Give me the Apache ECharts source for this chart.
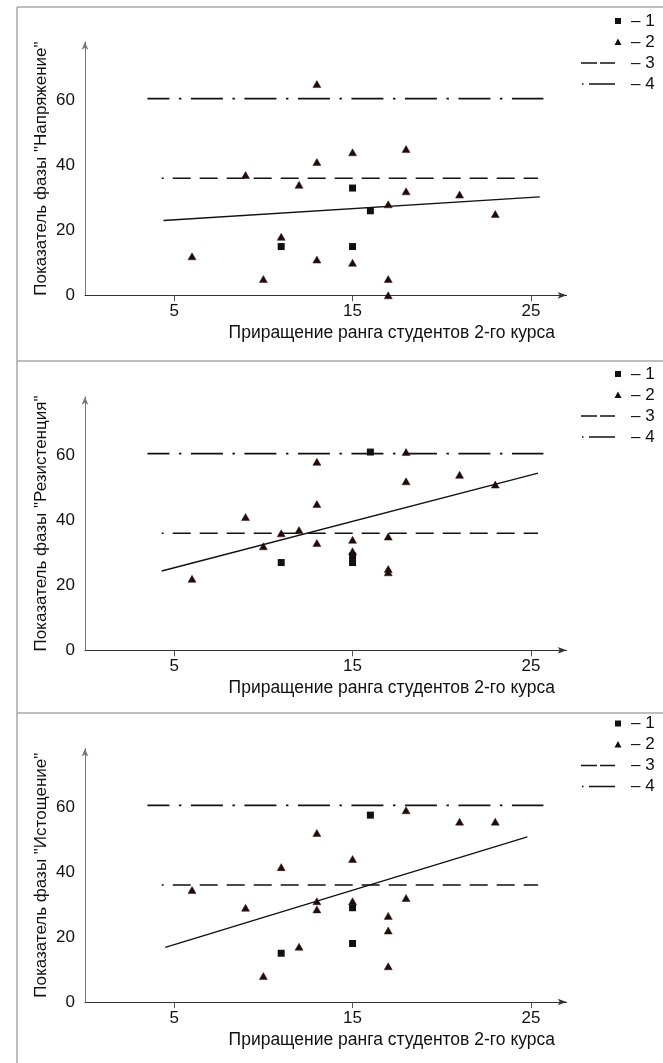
<!DOCTYPE html>
<html><head><meta charset="utf-8">
<script src="https://cdn.jsdelivr.net/npm/echarts@6/dist/echarts.min.js"></script>
<style>html,body{margin:0;padding:0;background:#fff}#c{width:663px;height:1063px}</style>
</head><body><div id="c"></div>
<script>
// ---- data ----
const yAxisNames = ['Показатель фазы "Напряжение"', 'Показатель фазы "Резистенция"', 'Показатель фазы "Истощение"'];
const xAxisName = 'Приращение ранга студентов 2-го курса';
const xTickValues = [5, 15, 25];
const yTickValues = [0, 20, 40, 60];
const legendLabels = ['– 1', '– 2', '– 3', '– 4'];

const squares1 = [[11, 15], [15, 33], [16, 26], [15, 15]];
const triangles1 = [[13, 65], [9, 37], [12, 34], [13, 41], [15, 44], [18, 45], [18, 32], [17, 28], [21, 31], [23, 25], [11, 18], [6, 12], [10, 5], [13, 11], [15, 10], [17, 5], [17, 0]];
const trend1 = [[4.4, 23.0], [25.5, 30.3]];

const squares2 = [[11, 27], [15, 27], [15, 29], [16, 61]];
const triangles2 = [[18, 61], [13, 58], [18, 52], [21, 54], [23, 51], [13, 45], [9, 41], [11, 36], [12, 37], [10, 32], [13, 33], [15, 34], [15, 30.5], [17, 35], [17, 25], [17, 24], [6, 22]];
const trend2 = [[4.3, 24.4], [25.4, 54.5]];

const squares3 = [[11, 15], [15, 29], [15, 18], [16, 57.5]];
const triangles3 = [[18, 59], [21, 55.5], [23, 55.5], [13, 52], [15, 44], [11, 41.5], [6, 34.5], [13, 31], [13, 28.5], [15, 31], [9, 29], [18, 32], [17, 26.5], [17, 22], [17, 11], [12, 17], [10, 8]];
const trend3 = [[4.5, 16.8], [24.8, 50.8]];

const refDashed = [[4.3, 36], [25.4, 36]];
const refDashDot = [[3.5, 60.5], [25.7, 60.5]];

// ---- layout ----
const FONT = '"Liberation Sans", Arial, sans-serif';
const gridTops = [41.8, 396.8, 748.5];
const gridH = 253.5;
const legendTops = [21, 374, 723.5];
const panels = [
  {sq: squares1, tr: triangles1, trend: trend1},
  {sq: squares2, tr: triangles2, trend: trend2},
  {sq: squares3, tr: triangles3, trend: trend3}
];

const grid = [], xAxis = [], yAxis = [], series = [], graphic = [];
panels.forEach((p, i) => {
  grid.push({left: 85, width: 481.6, top: gridTops[i], height: gridH, containLabel: false, outerBoundsMode: 'none'});
  xAxis.push({
    type: 'value', gridIndex: i, min: 0, max: 27,
    name: xAxisName, nameLocation: 'middle', nameGap: 29, nameMoveOverlap: false,
    nameTextStyle: {fontFamily: FONT, fontSize: 17.5, color: '#111', padding: [0, 0, 0, 132]},
    axisLine: {show: true, onZero: false, symbol: ['none', 'arrow'], symbolSize: [5, 9], lineStyle: {color: '#333', width: 1}},
    axisTick: {show: true, length: 6, customValues: xTickValues, lineStyle: {color: '#555'}},
    axisLabel: {customValues: xTickValues, fontFamily: FONT, fontSize: 17, color: '#111', margin: 8},
    splitLine: {show: false}
  });
  yAxis.push({
    type: 'value', gridIndex: i, min: 0, max: 78,
    name: yAxisNames[i], nameLocation: 'middle', nameGap: 35, nameRotate: 90, nameMoveOverlap: false,
    nameTextStyle: {fontFamily: FONT, fontSize: 17, color: '#111'},
    axisLine: {show: true, onZero: false, symbol: ['none', 'arrow'], symbolSize: [5, 8], lineStyle: {color: '#777', width: 1}},
    axisTick: {show: false},
    axisLabel: {customValues: yTickValues, fontFamily: FONT, fontSize: 17, color: '#111', margin: 10},
    splitLine: {show: false}
  });
  series.push({
    type: 'line', name: '3', xAxisIndex: i, yAxisIndex: i, data: refDashed, showSymbol: false, symbol: 'none', silent: true,
    lineStyle: {color: '#111', width: 1.6, type: [18, 9], dashOffset: 16}, z: 2, animation: false
  });
  series.push({
    type: 'line', name: '4', xAxisIndex: i, yAxisIndex: i, data: refDashDot, showSymbol: false, symbol: 'none', silent: true,
    lineStyle: {color: '#111', width: 1.7, type: [32, 9.5, 2.5, 9.5], dashOffset: 10}, z: 2, animation: false
  });
  series.push({
    type: 'line', name: 'trend', xAxisIndex: i, yAxisIndex: i, data: p.trend, showSymbol: false, symbol: 'none', silent: true,
    lineStyle: {color: '#111', width: 1.4}, z: 3, animation: false
  });
  series.push({
    type: 'scatter', name: '1', xAxisIndex: i, yAxisIndex: i, data: p.sq, symbol: 'rect', symbolSize: 7,
    itemStyle: {color: '#111', opacity: 1}, z: 5, animation: false
  });
  series.push({
    type: 'scatter', name: '2', xAxisIndex: i, yAxisIndex: i, data: p.tr, symbol: 'triangle', symbolSize: [8, 7],
    itemStyle: {color: '#1e0b0b', borderColor: '#3a1414', borderWidth: 0.5, opacity: 1}, z: 5, animation: false
  });

  // legend drawn as graphic
  const ly = legendTops[i], dy = 21;
  const children = [];
  children.push({type: 'rect', shape: {x: 615, y: ly - 3, width: 6, height: 6}, style: {fill: '#111'}});
  children.push({type: 'polygon', shape: {points: [[614.5, ly + dy + 3], [621.5, ly + dy + 3], [618, ly + dy - 3.5]]}, style: {fill: '#111'}});
  children.push({type: 'line', shape: {x1: 581, y1: ly + 2 * dy, x2: 597, y2: ly + 2 * dy}, style: {stroke: '#111', lineWidth: 1.5}});
  children.push({type: 'line', shape: {x1: 600, y1: ly + 2 * dy, x2: 615, y2: ly + 2 * dy}, style: {stroke: '#111', lineWidth: 1.5}});
  children.push({type: 'rect', shape: {x: 582, y: ly + 3 * dy - 0.75, width: 1.5, height: 1.5}, style: {fill: '#111'}});
  children.push({type: 'line', shape: {x1: 589, y1: ly + 3 * dy, x2: 615, y2: ly + 3 * dy}, style: {stroke: '#111', lineWidth: 1.5}});
  legendLabels.forEach((t, k) => {
    children.push({type: 'text', x: 631, y: ly + k * dy, style: {text: t, fontFamily: FONT, fontSize: 17, fill: '#111', verticalAlign: 'middle', align: 'left'}});
  });
  graphic.push({type: 'group', children: children, silent: true});
});

// panel frame lines
const frameSeps = [7, 361, 713];
const frame = [{type: 'line', shape: {x1: 17, y1: 7, x2: 17, y2: 1063}, style: {stroke: '#a8a8a8', lineWidth: 1.5}}];
frameSeps.forEach(y => frame.push({type: 'line', shape: {x1: 17, y1: y, x2: 663, y2: y}, style: {stroke: '#a8a8a8', lineWidth: 1.5}}));
graphic.push({type: 'group', children: frame, silent: true});

const chart = echarts.init(document.getElementById('c'), null, {renderer: 'canvas'});
chart.setOption({
  animation: false,
  backgroundColor: '#fff',
  grid, xAxis, yAxis, series, graphic,
  legend: {show: false},
  tooltip: {show: false}
});
</script>
</body></html>
